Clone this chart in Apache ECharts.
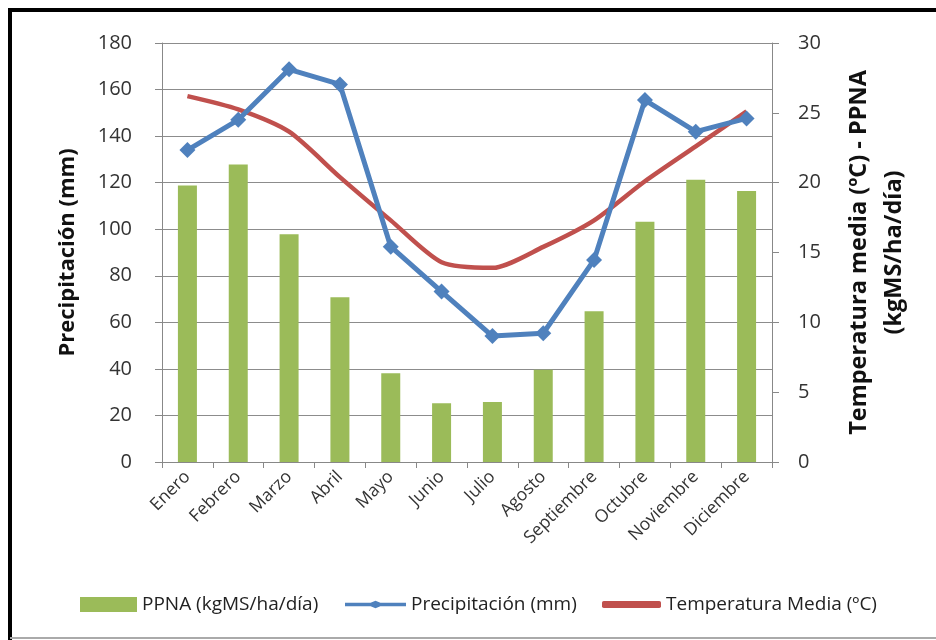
<!DOCTYPE html>
<html>
<head>
<meta charset="utf-8">
<script src="https://cdn.jsdelivr.net/npm/echarts@6/dist/echarts.min.js"></script>
<style>
html,body{margin:0;padding:0;background:#fff;}
#chart{width:936px;height:640px;}
</style>
</head>
<body>
<div id="chart"></div>
<script>
const months = ['Enero','Febrero','Marzo','Abril','Mayo','Junio','Julio','Agosto','Septiembre','Octubre','Noviembre','Diciembre'];
const ppna = [19.8, 21.3, 16.3, 11.8, 6.35, 4.2, 4.3, 6.6, 10.8, 17.2, 20.2, 19.4];
const precipitacion = [134, 147, 168.7, 162.2, 92.5, 73.2, 54.1, 55.3, 86.8, 155.5, 141.9, 147.6];
const temperatura = [26.2, 25.25, 23.65, 20.4, 17.3, 14.3, 13.9, 15.4, 17.3, 20.1, 22.6, 25.1];
const leftTicks = [0, 180, 20];
const rightTicks = [0, 30, 5];
const seriesNames = ['PPNA (kgMS/ha/día)', 'Precipitación (mm)', 'Temperatura Media (ºC)'];

const FONT = "'Open Sans', 'Noto Sans', sans-serif";
const legendText = {fontFamily: FONT, fontSize: 19, color: '#222'};
const chart = echarts.init(document.getElementById('chart'), null, {renderer: 'canvas'});
const option = {
  animation: false,
  backgroundColor: '#fff',
  textStyle: {fontFamily: FONT},
  grid: {left: 162, right: 164, top: 43, bottom: 178},
  legend: [
    {left: 75, top: 590, itemWidth: 57, itemHeight: 15, textStyle: legendText,
     data: [{name: seriesNames[0], icon: 'rect'}]},
    {left: 340, top: 590, itemWidth: 61, itemHeight: 10, textStyle: legendText,
     data: [{name: seriesNames[1], icon: 'path://M0,3 L42,3 L50,0 L58,3 L100,3 L100,9 L58,9 L50,12 L42,9 L0,9 Z',
             itemStyle: {color: '#4F81BD'}}]},
    {left: 597, top: 590, itemWidth: 59, itemHeight: 7, textStyle: legendText,
     data: [{name: seriesNames[2], icon: 'roundRect', itemStyle: {color: '#C0504D'}}]}
  ],
  xAxis: {
    type: 'category',
    data: months,
    axisLine: {lineStyle: {color: '#888', width: 1}},
    axisTick: {show: true, length: 6, lineStyle: {color: '#888'}},
    axisLabel: {interval: 0, rotate: 45, fontSize: 17.5, color: '#333', fontFamily: FONT, margin: 12}
  },
  yAxis: [
    {
      type: 'value', min: leftTicks[0], max: leftTicks[1], interval: leftTicks[2],
      name: seriesNames[1], nameLocation: 'middle', nameGap: 83,
      nameTextStyle: {fontSize: 22, fontWeight: 'bold', color: '#111', fontFamily: FONT},
      axisLine: {show: true, lineStyle: {color: '#888'}},
      axisTick: {show: true, length: 7, lineStyle: {color: '#888'}},
      axisLabel: {fontSize: 20, color: '#333', margin: 30, fontFamily: FONT},
      splitLine: {show: true, lineStyle: {color: '#8c8c8c', width: 1}}
    },
    {
      type: 'value', min: rightTicks[0], max: rightTicks[1], interval: rightTicks[2], position: 'right',
      name: 'Temperatura media (ºC) - PPNA\n(kgMS/ha/día)', nameLocation: 'middle', nameGap: 70,
      nameTextStyle: {fontSize: 23.5, fontWeight: 'bold', color: '#111', fontFamily: FONT, lineHeight: 35},
      axisLine: {show: true, lineStyle: {color: '#888'}},
      axisTick: {show: true, length: 7, lineStyle: {color: '#888'}},
      axisLabel: {fontSize: 20, color: '#333', margin: 26, fontFamily: FONT},
      splitLine: {show: false}
    }
  ],
  series: [
    {
      name: seriesNames[0], type: 'bar', yAxisIndex: 1, data: ppna,
      barWidth: 19, itemStyle: {color: '#9BBB59'}
    },
    {
      name: seriesNames[1], type: 'line', yAxisIndex: 0, data: precipitacion,
      symbol: 'diamond', symbolSize: 16,
      lineStyle: {color: '#4F81BD', width: 5},
      itemStyle: {color: '#4F81BD'}
    },
    {
      name: seriesNames[2], type: 'line', yAxisIndex: 1, data: temperatura,
      symbol: 'none', smooth: 0.25, z: 1,
      lineStyle: {color: '#C0504D', width: 4.5},
      itemStyle: {color: '#C0504D'}
    }
  ],
  graphic: [
    {type: 'line', shape: {x1: 10, y1: 8, x2: 10, y2: 640}, style: {stroke: '#000', lineWidth: 4}, silent: true},
    {type: 'line', shape: {x1: 8, y1: 10, x2: 936, y2: 10}, style: {stroke: '#000', lineWidth: 4}, silent: true},
    {type: 'line', shape: {x1: 10, y1: 638, x2: 936, y2: 638}, style: {stroke: '#aaa', lineWidth: 2}, silent: true}
  ]
};
chart.setOption(option);
</script>
</body>
</html>
